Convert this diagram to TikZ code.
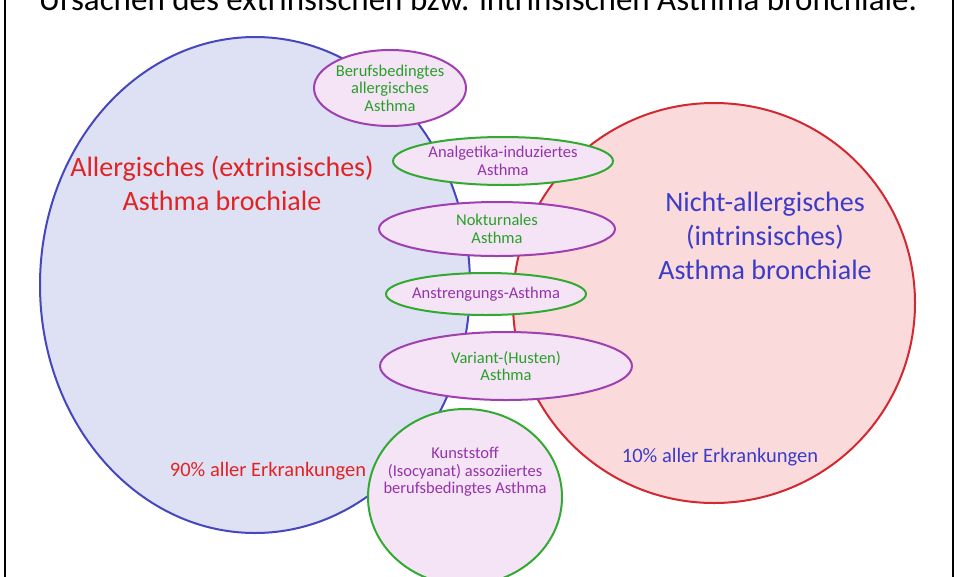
\documentclass[tikz,border=0pt]{standalone}
\usepackage{fontspec}
\setmainfont{Carlito}
\begin{document}
\begin{tikzpicture}[x=1pt,y=-1pt,
  sm/.style={align=center,font=\fontsize{16.5}{17.5}\selectfont},
  pe/.style={draw={rgb,255:red,160;green,64;blue,176},line width=2pt,fill={rgb,255:red,244;green,228;blue,246}},
  ge/.style={draw={rgb,255:red,50;green,170;blue,50},line width=2pt,fill={rgb,255:red,244;green,228;blue,246}},
  gt/.style={text={rgb,255:red,40;green,160;blue,40}},
  pt/.style={text={rgb,255:red,150;green,50;blue,170}}]
\useasboundingbox (0,0) rectangle (960,576);
\clip (0,0) rectangle (960,576);
\fill[white] (0,0) rectangle (960,576);
\draw[line width=1.4pt] (5,-10) rectangle (953,590);
\node[font=\fontsize{33}{35}\selectfont,anchor=base] (title) at (478,10) {Ursachen des extrinsischen bzw. intrinsischen Asthma bronchiale.};
\draw[draw={rgb,255:red,70;green,70;blue,190},line width=2pt,fill={rgb,255:red,222;green,224;blue,244}] (255,285) ellipse [x radius=215,y radius=248];
\draw[draw={rgb,255:red,210;green,40;blue,50},line width=2pt,fill={rgb,255:red,250;green,218;blue,218}] (714,303) ellipse [x radius=201,y radius=200];
\node[text={rgb,255:red,225;green,35;blue,35},align=center,font=\fontsize{28}{34}\selectfont] (allerg) at (222,183) {Allergisches (extrinsisches)\\Asthma brochiale};
\node[text={rgb,255:red,60;green,60;blue,200},align=center,font=\fontsize{28}{34}\selectfont] (nicht) at (765,236) {Nicht-allergisches\\(intrinsisches)\\Asthma bronchiale};
\node[text={rgb,255:red,225;green,35;blue,35},font=\fontsize{20.5}{22}\selectfont] (p90) at (268,471) {90\% aller Erkrankungen};
\node[text={rgb,255:red,60;green,60;blue,200},font=\fontsize{20.5}{22}\selectfont] (p10) at (720,457) {10\% aller Erkrankungen};
\draw[pe] (390,88) ellipse [x radius=76,y radius=38];
\node[sm,gt] (e1) at (390,88) {Berufsbedingtes\\allergisches\\Asthma};
\draw[ge] (503,161) ellipse [x radius=110,y radius=24];
\node[sm,pt] (e2) at (503,161) {Analgetika-induziertes\\Asthma};
\draw[pe] (497,229) ellipse [x radius=118,y radius=27];
\node[sm,gt] (e3) at (497,229) {Nokturnales\\Asthma};
\draw[ge] (486,294) ellipse [x radius=100,y radius=21];
\node[sm,pt] (e4) at (486,294) {Anstrengungs-Asthma};
\draw[pe] (506,366) ellipse [x radius=126,y radius=34];
\node[sm,gt] (e5) at (506,366) {Variant-(Husten)\\Asthma};
\draw[ge] (465,497) ellipse [x radius=97,y radius=88];
\node[sm,pt] (e6) at (465,472) {Kunststoff\\(Isocyanat) assoziiertes\\berufsbedingtes Asthma};
\end{tikzpicture}
\end{document}
